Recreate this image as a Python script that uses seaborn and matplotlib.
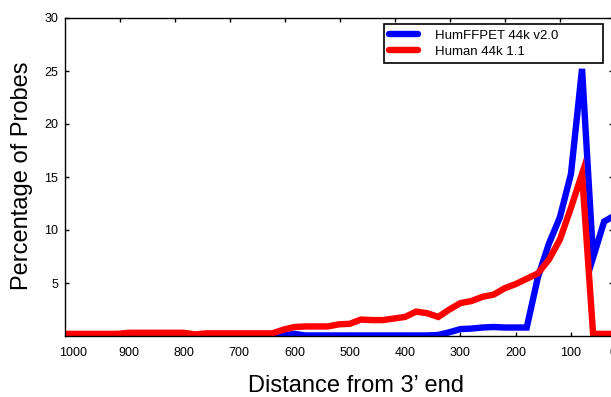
import numpy as np
import pandas as pd
import matplotlib
matplotlib.use("Agg")
import matplotlib.pyplot as plt
import seaborn as sns

# ---- data ----
distance = [1020, 1000, 980, 960, 940, 920, 900, 880, 860, 840, 820,
            800, 780, 760, 740, 720, 700, 680, 660, 640, 620,
            600, 580, 560, 540, 520, 500, 480, 460, 440, 420,
            400, 380, 360, 340, 320, 300, 280, 260, 240, 220,
            200, 180, 160, 140, 120, 100, 80, 60, 40, 20]

humffpet = [0.05, 0.05, 0.05, 0.05, 0.05, 0.05, 0.05, 0.05, 0.05, 0.05, 0.05,
            0.05, 0.05, 0.05, 0.05, 0.05, 0.05, 0.05, 0.05, 0.05, 0.05,
            0.2, 0.05, 0.05, 0.05, 0.05, 0.05, 0.05, 0.05, 0.05, 0.05,
            0.05, 0.05, 0.05, 0.1, 0.35, 0.65, 0.7, 0.8, 0.85, 0.8,
            0.8, 0.8, 5.5, 8.7, 11.2, 15.3, 25.2, 7.4, 10.8, 11.4]

human11 = [0.2, 0.2, 0.2, 0.2, 0.2, 0.2, 0.3, 0.3, 0.3, 0.3, 0.3,
           0.3, 0.15, 0.25, 0.25, 0.25, 0.25, 0.25, 0.25, 0.25, 0.6,
           0.85, 0.9, 0.9, 0.9, 1.1, 1.15, 1.55, 1.5, 1.5, 1.65,
           1.8, 2.3, 2.15, 1.8, 2.5, 3.1, 3.3, 3.7, 3.9, 4.5,
           4.9, 5.4, 5.9, 7.2, 9.1, 12.1, 15.3, 0.2, 0.2, 0.2]

series_names = ["HumFFPET 44k v2.0", "Human 44k 1.1"]
series_colors = ["#0000ff", "#ff0000"]
x_ticks = [1000, 900, 800, 700, 600, 500, 400, 300, 200, 100]
y_ticks = [5, 10, 15, 20, 25, 30]

df = pd.concat([
    pd.DataFrame({"distance": distance, "pct": humffpet, "array": series_names[0]}),
    pd.DataFrame({"distance": distance, "pct": human11, "array": series_names[1]}),
], ignore_index=True)

# ---- style ----
sns.set_style("ticks")
plt.rcParams["font.family"] = ["Liberation Sans", "DejaVu Sans"]
plt.rcParams["text.color"] = "black"
plt.rcParams["axes.labelcolor"] = "black"
plt.rcParams["xtick.color"] = "black"
plt.rcParams["ytick.color"] = "black"

W, H = 611, 397
fig = plt.figure(figsize=(W / 100, H / 100), dpi=100)
ax_l, ax_r, ax_t, ax_b = 65, 613, 18, 336
ax = fig.add_axes([ax_l / W, (H - ax_b) / H, (ax_r - ax_l) / W, (ax_b - ax_t) / H])

sns.lineplot(data=df, x="distance", y="pct", hue="array",
             hue_order=series_names, palette=dict(zip(series_names, series_colors)),
             estimator=None, linewidth=4.6, legend=False, ax=ax)
for ln in ax.get_lines():
    ln.set_solid_joinstyle("miter")

ax.set_xlim(1015, 24)
ax.set_ylim(0, 30)
ax.set_xticks(x_ticks)
ax.set_xticklabels([str(t) for t in x_ticks])
ax.set_yticks(y_ticks)
ax.set_yticklabels([str(t) for t in y_ticks])

for s in ax.spines.values():
    s.set_visible(True)
    s.set_linewidth(1.0)
    s.set_color("black")

ax.tick_params(axis="both", direction="in", length=3, width=1.0, colors="black",
               labelsize=9, labelcolor="black")
ax.tick_params(axis="x", pad=8)
ax.tick_params(axis="y", pad=5, right=True)

# top ticks (slightly different spacing in the reference)
ax2 = ax.twiny()
ax2.set_xlim(1000, 3.6)
ax2.set_xticks(x_ticks[1:])
ax2.tick_params(axis="x", direction="in", length=3, width=1.0, labeltop=False)
for s in ax2.spines.values():
    s.set_visible(False)

ax.set_xlabel("Distance from 3\u2019 end", fontsize=17)
ax.set_ylabel("Percentage of Probes", fontsize=17)
ax.xaxis.set_label_coords((356 - ax_l) / (ax_r - ax_l), (ax_b - 386) / (ax_b - ax_t))
ax.xaxis.label.set_va("center")
ax.yaxis.set_label_coords((22 - ax_l) / (ax_r - ax_l), (ax_b - 176) / (ax_b - ax_t))
ax.yaxis.label.set_va("center")

# partially visible "0" tick label at the right edge
fig.text(613.5 / W, (H - 353) / H, "0", ha="center", va="center", fontsize=9)

lines = ax.get_lines()[:2]
leg_l, leg_r, leg_t, leg_b = 384, 603, 24, 63
leg = ax.legend(lines, series_names, loc="upper left", mode="expand",
                bbox_to_anchor=(leg_l / W, (H - leg_b) / H, (leg_r - leg_l) / W, (leg_b - leg_t) / H),
                bbox_transform=fig.transFigure,
                borderaxespad=0, frameon=True, fancybox=False, framealpha=1,
                edgecolor="black", fontsize=9.5, handlelength=2.2, handletextpad=1.3,
                labelspacing=0.3, borderpad=0.4)
leg.get_frame().set_linewidth(1.2)
for h in leg.legend_handles:
    h.set_linewidth(4.6)

fig.savefig("out.png", dpi=100)
